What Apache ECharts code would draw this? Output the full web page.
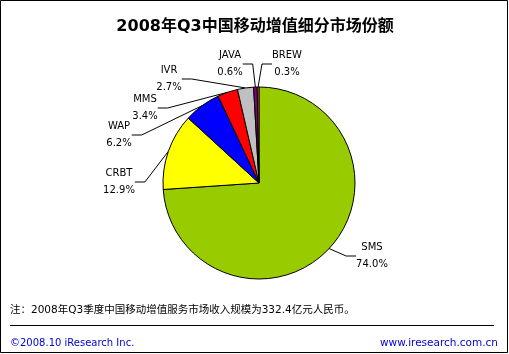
<!DOCTYPE html>
<html>
<head>
<meta charset="utf-8">
<script src="https://cdn.jsdelivr.net/npm/echarts@6/dist/echarts.min.js"></script>
<style>
  html, body { margin: 0; padding: 0; background: #fff; }
  #chart { width: 509px; height: 354px; }
</style>
</head>
<body>
<div id="chart"></div>
<script>
// 细分市场 (顺时针, 从12点钟方向开始)
var segNames = ['SMS', 'CRBT', 'WAP', 'MMS', 'IVR', 'JAVA', 'BREW'];
var segShares = [74.0, 12.9, 6.2, 3.4, 2.7, 0.6, 0.3];
var segColors = ['#99cc00', '#ffff00', '#0000ff', '#ff0000', '#c0c0c0', '#800080', '#ff6600'];

// 标签中心位置
var labelPos = [[372, 256], [119, 182], [119, 135], [145, 108], [169, 79], [230, 64], [287, 64]];

var pieData = [];
for (var i = 0; i < segNames.length; i++) {
    pieData.push({ name: segNames[i], value: segShares[i], itemStyle: { color: segColors[i] } });
}

var font = 'Verdana, "DejaVu Sans", "Noto Sans CJK SC", sans-serif';
var chart = echarts.init(document.getElementById('chart'));
chart.setOption({
    backgroundColor: '#fff',
    animation: false,
    series: [{
        type: 'pie',
        center: [259, 183],
        radius: 96,
        startAngle: 90,
        clockwise: true,
        minAngle: 0,
        avoidLabelOverlap: false,
        data: pieData,
        itemStyle: { borderColor: '#000', borderWidth: 1 },
        label: {
            show: true,
            formatter: function (p) { return p.name + '\n' + p.value.toFixed(1) + '%'; },
            fontFamily: font,
            fontSize: 10,
            lineHeight: 17,
            color: '#000',
            align: 'center'
        },
        labelLine: {
            show: true,
            length: 10,
            length2: 10,
            lineStyle: { color: '#000', width: 1 }
        },
        labelLayout: function (params) {
            var p = labelPos[params.dataIndex];
            return { x: p[0], y: p[1], align: 'center', verticalAlign: 'middle' };
        },
        emphasis: { disabled: true }
    }],
    graphic: [
        { type: 'rect', shape: { x: 0.5, y: 0.5, width: 507, height: 352 }, style: { fill: null, stroke: '#000', lineWidth: 1 } },
        { type: 'text', x: 255, y: 27, style: { text: '2008年Q3中国移动增值细分市场份额', font: 'bold 16px ' + font, fill: '#000', textAlign: 'center', textVerticalAlign: 'middle' } },
        { type: 'text', x: 10, y: 310, style: { text: '注：2008年Q3季度中国移动增值服务市场收入规模为332.4亿元人民币。', font: '10.5px ' + font, fill: '#000', textVerticalAlign: 'middle' } },
        { type: 'line', shape: { x1: 10, y1: 325.5, x2: 494, y2: 325.5 }, style: { stroke: '#000', lineWidth: 1 } },
        { type: 'text', x: 10, y: 343, style: { text: '©2008.10 iResearch Inc.', font: '10px ' + font, fill: '#0000cc', textVerticalAlign: 'middle' } },
        { type: 'text', x: 498, y: 343, style: { text: 'www.iresearch.com.cn', font: '10.5px ' + font, fill: '#0000cc', textAlign: 'right', textVerticalAlign: 'middle' } }
    ]
});
</script>
</body>
</html>
